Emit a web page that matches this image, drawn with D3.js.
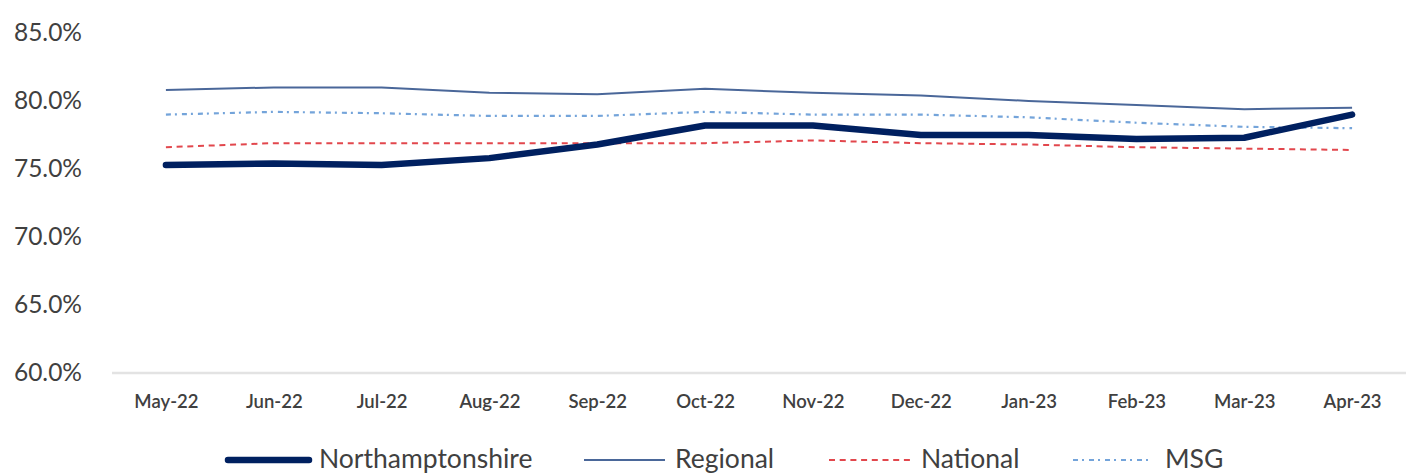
<!DOCTYPE html>
<html>
<head>
<meta charset="utf-8">
<script src="https://cdn.jsdelivr.net/npm/d3@7"></script>
<style>
  html, body { margin: 0; padding: 0; background: #ffffff; }
  svg { display: block; }
</style>
</head>
<body>
<svg id="chart" width="1410" height="475"></svg>
<script>
const months = ["May-22","Jun-22","Jul-22","Aug-22","Sep-22","Oct-22","Nov-22","Dec-22","Jan-23","Feb-23","Mar-23","Apr-23"];
const northamptonshire = [75.3, 75.4, 75.3, 75.8, 76.8, 78.2, 78.2, 77.5, 77.5, 77.2, 77.3, 79.0];
const regional         = [80.8, 81.0, 81.0, 80.6, 80.5, 80.9, 80.6, 80.4, 80.0, 79.7, 79.4, 79.5];
const national         = [76.6, 76.9, 76.9, 76.9, 76.9, 76.9, 77.1, 76.9, 76.8, 76.6, 76.5, 76.4];
const msg              = [79.0, 79.2, 79.1, 78.9, 78.9, 79.2, 79.0, 79.0, 78.8, 78.4, 78.1, 78.0];
const yTicks = [60, 65, 70, 75, 80, 85];
const seriesNames = ["Northamptonshire", "Regional", "National", "MSG"];

const series = [
  { name: seriesNames[0], values: northamptonshire, color: "#002060", width: 6.5, dash: null, cap: "round" },
  { name: seriesNames[1], values: regional, color: "#4a6799", width: 2, dash: null, cap: "butt" },
  { name: seriesNames[2], values: national, color: "#e2474d", width: 2, dash: "6,4.7", cap: "butt" },
  { name: seriesNames[3], values: msg, color: "#74a4da", width: 2.2, dash: "5,4,2,5", cap: "butt" }
];

const svg = d3.select("#chart");
const textColor = "#404040";
const font = "Lato, 'Open Sans', sans-serif";

const x = d3.scalePoint().domain(months).range([112, 1406]).padding(0.5);
const y = d3.scaleLinear().domain([60, 85]).range([373, 33]);

// Y labels
const yAxis = d3.axisLeft(y).tickValues(yTicks).tickFormat(d => d3.format(".1f")(d) + "%").tickSize(0).tickPadding(0);
const gy = svg.append("g").attr("transform", "translate(82,0)").call(yAxis);
gy.select(".domain").remove();
gy.selectAll("text").attr("font-family", font).attr("font-size", 24.5).attr("fill", textColor);

// X axis
const xAxis = d3.axisBottom(x).tickSize(0).tickPadding(0);
const gx = svg.append("g").attr("transform", "translate(0,373)").call(xAxis);
gx.select(".domain").attr("stroke", "#e3e3e3").attr("stroke-width", 2.5).attr("d", "M112,0H1406");
gx.selectAll("text").attr("font-family", font).attr("font-size", 18.5).attr("font-weight", 600)
  .attr("fill", textColor).attr("dy", 0).attr("y", 35);

// Lines
const line = d3.line().x((d, i) => x(months[i])).y(d => y(d));
const drawOrder = [series[1], series[2], series[3], series[0]];
drawOrder.forEach(s => {
  svg.append("path")
    .datum(s.values)
    .attr("d", line)
    .attr("fill", "none")
    .attr("stroke", s.color)
    .attr("stroke-width", s.width)
    .attr("stroke-linejoin", "round")
    .attr("stroke-linecap", s.cap)
    .attr("stroke-dasharray", s.dash);
});

// Legend
const legendItems = [
  { s: series[0], x1: 228, x2: 309, tx: 319 },
  { s: series[1], x1: 584, x2: 665, tx: 675 },
  { s: series[2], x1: 829, x2: 910, tx: 921 },
  { s: series[3], x1: 1073, x2: 1153, tx: 1165 }
];
const lg = svg.append("g");
legendItems.forEach(it => {
  lg.append("line")
    .attr("x1", it.x1).attr("x2", it.x2).attr("y1", 460).attr("y2", 460)
    .attr("stroke", it.s.color).attr("stroke-width", it.s.width)
    .attr("stroke-linecap", it.s.cap).attr("stroke-dasharray", it.s.dash);
  lg.append("text")
    .attr("x", it.tx).attr("y", 468)
    .attr("font-family", font).attr("font-size", 26.5).attr("fill", textColor)
    .text(it.s.name);
});
</script>
</body>
</html>
